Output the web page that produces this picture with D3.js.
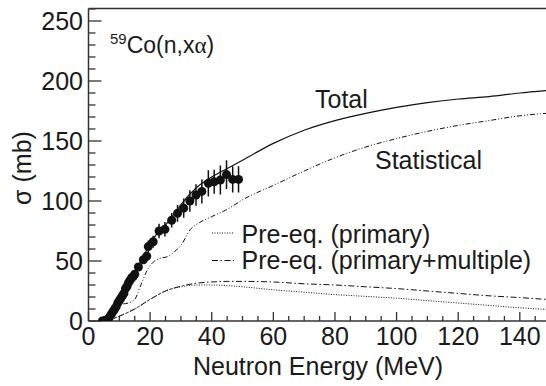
<!DOCTYPE html>
<html><head><meta charset="utf-8">
<script src="https://cdn.jsdelivr.net/npm/d3@7"></script>
<style>
html,body{margin:0;padding:0;background:#fff;}
text{font-family:"Liberation Sans",Arial,Helvetica,sans-serif;fill:#1a1a1a;}
</style></head>
<body><svg id="c" width="546" height="386"></svg>
<script>
// ---- data ----
const totalE   = [4, 5, 6, 8, 10, 12, 14, 16, 18, 20, 22, 25, 28, 30, 35, 40, 45, 50, 60, 70, 80, 90, 100, 110, 120, 130, 140, 148.5];
const totalS   = [0, 1, 3, 10, 18, 26, 35, 45, 55, 64, 72, 80, 90, 97, 111, 120, 127, 134, 148, 159, 167, 173, 178, 182, 185, 187, 190, 192];
const statE    = [5, 7, 9, 11, 13, 15, 17, 19, 21, 23, 26, 28, 30, 33, 36, 40, 45, 50, 60, 70, 80, 90, 100, 110, 120, 130, 140, 148.5];
const statS    = [0, 4, 10, 14, 15, 18, 30, 42, 49, 52, 54, 58, 63, 76, 82, 87, 93, 101, 113, 125, 136, 145, 152, 158, 163, 167, 171, 173];
const primE    = [6, 10, 15, 20, 25, 30, 35, 40, 45, 50, 60, 70, 80, 90, 100, 110, 120, 130, 140, 148.5];
const primS    = [0, 4, 10, 18, 25, 28.5, 30, 30, 29.5, 28.5, 26, 24, 22, 20.5, 19, 17, 15, 13, 11, 9.7];
const multE    = [6, 10, 15, 20, 25, 30, 35, 40, 45, 50, 60, 70, 80, 90, 100, 110, 120, 130, 140, 148.5];
const multS    = [0, 4, 10, 18, 25, 29, 31.5, 32.5, 33, 33, 32.5, 31, 30, 28.5, 27, 25, 23, 21, 19.5, 18];
const expE     = [4.5, 5, 5.5, 6, 6.5, 7, 7.5, 8, 8.5, 9, 9.5, 10, 10.5, 11, 11.5, 12, 12.5, 13, 13.5, 14, 14.5, 15, 16.2, 17.8, 18.9, 19.4, 21.0, 22.9, 24.8, 27.0, 28.9, 30.9, 32.9, 34.9, 36.8, 38.9, 40.8, 42.8, 44.8, 46.8, 48.7];
const expS     = [0, 0, 0.5, 1, 2, 4, 6, 8, 10, 12, 15, 17, 19, 21, 23, 27, 29, 32, 34, 36, 37, 39, 45, 51, 54, 62, 66, 75, 76.4, 84, 89.7, 94, 100, 105, 108, 114.7, 116, 117.5, 122, 118, 118];
const expErr   = [1, 1, 1, 1, 1, 1, 1, 1, 1.5, 1.5, 1.5, 1.5, 2, 2, 2, 2, 2, 2, 2, 2, 2, 2, 3, 3, 3, 5, 5, 6, 6, 6, 7, 8, 9, 9, 10, 11, 10, 12, 12, 11, 11];
const xTicks   = [0, 20, 40, 60, 80, 100, 120, 140];
const yTicks   = [0, 50, 100, 150, 200, 250];
const legendLabels = ["Pre-eq. (primary)", "Pre-eq. (primary+multiple)"];

// ---- layout ----
const svg = d3.select("#c");
const L = 88.5, R = 546, T = 8.5, B = 321;
const x = d3.scaleLinear().domain([0, 148.5]).range([L, R]);
const y = d3.scaleLinear().domain([0, 260.4]).range([B, T]);
const axisCol = "#333";
const FS = 25;

// frame
svg.append("line").attr("x1", L).attr("x2", R).attr("y1", T).attr("y2", T).attr("stroke", axisCol).attr("stroke-width", 1.5);
svg.append("line").attr("x1", L).attr("x2", L).attr("y1", T).attr("y2", B).attr("stroke", axisCol).attr("stroke-width", 1.5);
svg.append("line").attr("x1", L).attr("x2", R).attr("y1", B).attr("y2", B).attr("stroke", axisCol).attr("stroke-width", 1.5);

// x ticks (inside)
const xMinor = d3.range(0, 149, 5).filter(v => v % 20 !== 0);
svg.append("g").selectAll("line").data(xTicks).join("line")
  .attr("x1", d => x(d)).attr("x2", d => x(d)).attr("y1", B).attr("y2", B - 9)
  .attr("stroke", axisCol).attr("stroke-width", 1.3);
svg.append("g").selectAll("line").data(xMinor).join("line")
  .attr("x1", d => x(d)).attr("x2", d => x(d)).attr("y1", B).attr("y2", B - 5)
  .attr("stroke", axisCol).attr("stroke-width", 1.3);
svg.append("g").selectAll("text").data(xTicks).join("text")
  .attr("x", d => x(d)).attr("y", 345).attr("text-anchor", "middle")
  .attr("font-size", FS).text(d => d);

// y ticks (inside)
const yMinor = d3.range(0, 261, 10).filter(v => v % 50 !== 0);
svg.append("g").selectAll("line").data(yTicks).join("line")
  .attr("x1", L).attr("x2", L + 13).attr("y1", d => y(d)).attr("y2", d => y(d))
  .attr("stroke", axisCol).attr("stroke-width", 1.3);
svg.append("g").selectAll("line").data(yMinor).join("line")
  .attr("x1", L).attr("x2", L + 7).attr("y1", d => y(d)).attr("y2", d => y(d))
  .attr("stroke", axisCol).attr("stroke-width", 1.3);
svg.append("g").selectAll("text").data(yTicks).join("text")
  .attr("x", 83).attr("y", d => y(d) + 9).attr("text-anchor", "end")
  .attr("font-size", FS).text(d => d);

// axis titles
svg.append("text").attr("x", 318).attr("y", 375).attr("text-anchor", "middle")
  .attr("font-size", FS).text("Neutron Energy (MeV)");
svg.append("text").attr("transform", "translate(31,168) rotate(-90)").attr("text-anchor", "middle")
  .attr("font-size", FS).text("σ (mb)");

// curves
const clip = svg.append("defs").append("clipPath").attr("id", "clp");
clip.append("rect").attr("x", L).attr("y", T).attr("width", R - L).attr("height", B - T);
const g = svg.append("g").attr("clip-path", "url(#clp)");
const line = d3.line().x(d => x(d[0])).y(d => y(d[1])).curve(d3.curveMonotoneX);
function curve(E, S, dash, w) {
  g.append("path").datum(E.map((e, i) => [e, S[i]]))
    .attr("d", line).attr("fill", "none").attr("stroke", "#111")
    .attr("stroke-width", w).attr("stroke-dasharray", dash);
}
curve(totalE, totalS, null, 1.2);
curve(statE, statS, "5,2,1,2,1,2", 1);
curve(primE, primS, "1,1.5", 1);
curve(multE, multS, "6,2.5,1.5,2.5", 1);

// data points with error bars
const pts = expE.map((e, i) => ({e, s: expS[i], err: expErr[i]}));
g.append("g").selectAll("line").data(pts).join("line")
  .attr("x1", d => x(d.e)).attr("x2", d => x(d.e))
  .attr("y1", d => y(d.s - d.err)).attr("y2", d => y(d.s + d.err))
  .attr("stroke", "#111").attr("stroke-width", 1.5);
g.append("g").selectAll("circle").data(pts).join("circle")
  .attr("cx", d => x(d.e)).attr("cy", d => y(d.s)).attr("r", 4.5).attr("fill", "#111");

// labels
const title = svg.append("text").attr("x", 110).attr("y", 52.5).attr("font-size", 23);
title.append("tspan").attr("font-size", 15).attr("dy", -9).text("59");
title.append("tspan").attr("dy", 9).text("Co(n,x");
title.append("tspan").attr("font-family", "'Liberation Serif','DejaVu Serif',serif").text("α");
title.append("tspan").text(")");
svg.append("text").attr("x", 315).attr("y", 108).attr("font-size", FS).text("Total");
svg.append("text").attr("x", 375).attr("y", 169).attr("font-size", FS).text("Statistical");

// legend
const legDash = ["1,1.5", "6,2.5,1.5,2.5"];
const legY = [233, 260.5];
const legTY = [243, 268.5];
legendLabels.forEach((lab, i) => {
  svg.append("line").attr("x1", 212).attr("x2", 234).attr("y1", legY[i]).attr("y2", legY[i])
    .attr("stroke", "#111").attr("stroke-width", 1).attr("stroke-dasharray", legDash[i]);
  svg.append("text").attr("x", 241.5).attr("y", legTY[i]).attr("font-size", FS).text(lab);
});
</script></body></html>
